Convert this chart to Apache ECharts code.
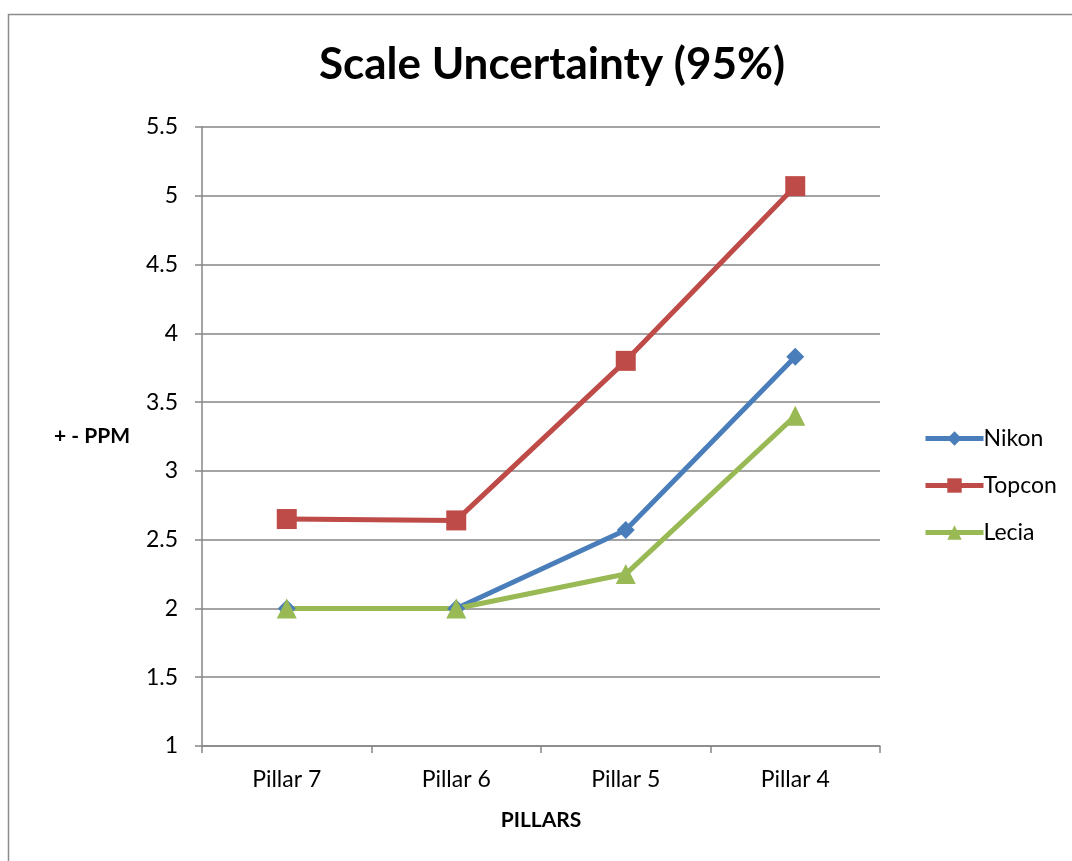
<!DOCTYPE html>
<html>
<head>
<meta charset="utf-8">
<script src="https://cdn.jsdelivr.net/npm/echarts@6/dist/echarts.min.js"></script>
<style>
  html, body { margin: 0; padding: 0; background: #fff; }
  #chart { width: 1072px; height: 861px; }
</style>
</head>
<body>
<div id="chart"></div>
<script>
// data
const pillars = ["Pillar 7", "Pillar 6", "Pillar 5", "Pillar 4"];
const nikon = [2.0, 2.0, 2.57, 3.83];
const topcon = [2.65, 2.64, 3.8, 5.07];
const lecia = [2.0, 2.0, 2.25, 3.4];

const font = "Lato, 'Open Sans', sans-serif";
const axisGray = "#868686";

const chart = echarts.init(document.getElementById("chart"));

const options = {
  animation: false,
  textStyle: { fontFamily: font },
  title: {
    text: "Scale Uncertainty (95%)",
    left: 547,
    top: 38,
    textAlign: "center",
    textStyle: { fontSize: 44, fontWeight: "bold", color: "#000", fontFamily: font },
  },
  graphic: [
    {
      type: "rect",
      shape: { x: 8.5, y: 14.5, width: 1100, height: 900 },
      style: { fill: "none", stroke: "#8c8c8c", lineWidth: 1.5 },
      silent: true,
    },
  ],
  grid: { left: 202, right: 192, top: 127, bottom: 115 },
  legend: {
    orient: "vertical",
    left: 918,
    top: 422,
    itemGap: 24,
    itemWidth: 58,
    itemHeight: 18,
    lineStyle: { width: 5 },
    textStyle: { fontSize: 23, color: "#000", fontFamily: font, padding: [0, 0, 0, -5] },
    data: ["Nikon", "Topcon", "Lecia"],
  },
  xAxis: {
    type: "category",
    data: pillars,
    boundaryGap: true,
    name: "PILLARS",
    nameLocation: "middle",
    nameGap: 64,
    nameTextStyle: { fontSize: 21, fontWeight: "bold", color: "#000" },
    axisLine: { lineStyle: { color: axisGray, width: 1.5 } },
    axisTick: { show: true, length: 7, inside: false, alignWithLabel: false, lineStyle: { color: axisGray, width: 1.5 } },
    axisLabel: { fontSize: 23, color: "#000", margin: 22 },
  },
  yAxis: {
    type: "value",
    min: 1,
    max: 5.5,
    interval: 0.5,
    name: "+ - PPM",
    nameLocation: "middle",
    nameRotate: 0,
    nameGap: 72,
    nameTextStyle: { fontSize: 21, fontWeight: "bold", color: "#000" },
    axisLine: { show: true, lineStyle: { color: axisGray, width: 1.5 } },
    axisTick: { show: true, length: 7, lineStyle: { color: axisGray, width: 1.5 } },
    axisLabel: { fontSize: 23, color: "#000", margin: 24 },
    splitLine: { lineStyle: { color: axisGray, width: 1.5 } },
  },
  series: [
    {
      name: "Nikon",
      type: "line",
      data: nikon,
      symbol: "diamond",
      symbolSize: 18,
      lineStyle: { width: 5, color: "#4a7ebb" },
      itemStyle: { color: "#4a7ebb" },
    },
    {
      name: "Topcon",
      type: "line",
      data: topcon,
      symbol: "rect",
      symbolSize: 20,
      lineStyle: { width: 5, color: "#be4b48" },
      itemStyle: { color: "#be4b48" },
    },
    {
      name: "Lecia",
      type: "line",
      data: lecia,
      symbol: "triangle",
      symbolSize: 20,
      lineStyle: { width: 5, color: "#98b954" },
      itemStyle: { color: "#98b954" },
    },
  ],
};

chart.setOption(options);
window.addEventListener("resize", () => {
  chart.resize();
});
</script>
</body>
</html>
